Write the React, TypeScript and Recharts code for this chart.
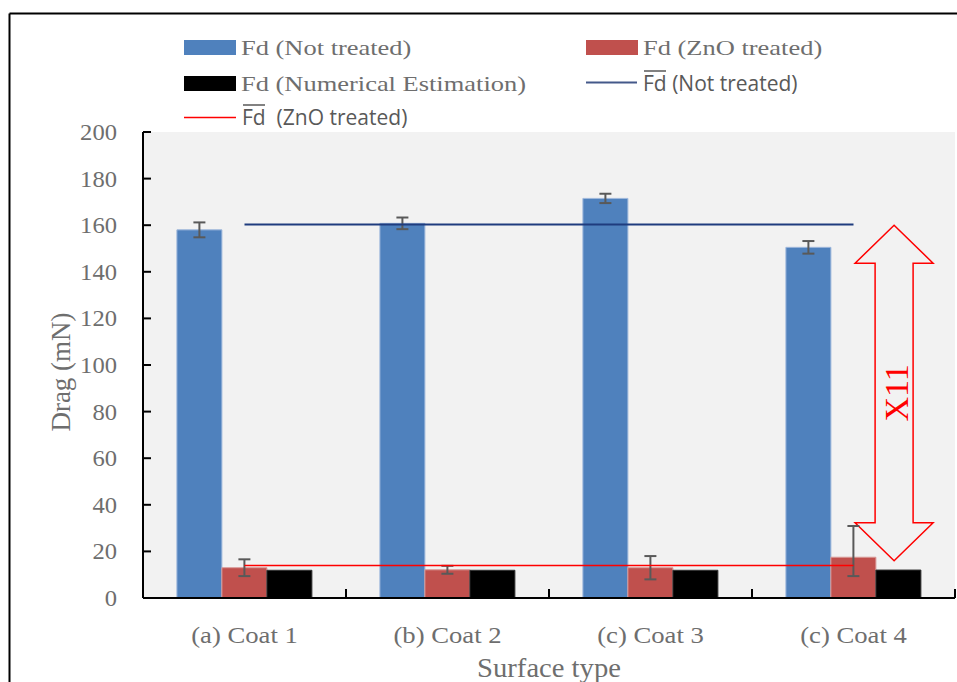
import React from 'react';
import {
  ComposedChart, Bar, Line, XAxis, YAxis, CartesianGrid, ErrorBar, ReferenceArea,
} from 'recharts';

const surfaces = ['(a) Coat 1', '(b) Coat 2', '(c) Coat 3', '(c) Coat 4'];
const fdNotTreated = [158, 160.8, 171.5, 150.5];
const fdNotTreatedErr = [3.2, 2.5, 2, 2.7];
const fdZnO = [13, 12.1, 13, 17.5];
const fdZnOErr = [[3.6, 3.6], [1.7, 1.7], [5, 5], [8.1, 13.4]];
const fdNumerical = [11.9, 11.9, 11.9, 12];
const meanNotTreated = 160.3;
const meanZnO = 14;
const yTicks = [0, 20, 40, 60, 80, 100, 120, 140, 160, 180, 200];
const arrowFrom = 16;
const arrowTo = 160;
const ratioLabel = 'X11';

const data = surfaces.map((s, i) => ({
  surface: s,
  notTreated: fdNotTreated[i],
  notTreatedErr: fdNotTreatedErr[i],
  zno: fdZnO[i],
  znoErr: fdZnOErr[i],
  numerical: fdNumerical[i],
  meanNot: meanNotTreated,
  meanZnO: meanZnO,
}));

const SERIF = '"Liberation Serif", "Times New Roman", serif';
const SANS = '"Open Sans", "Noto Sans", sans-serif';
const GREY = '#595959';
const LIGHT = '#6e6e6e'; // serif text is thin in the original, so a lighter grey
const NAVY = '#1f3c7e';

function YTick({ x, y, payload }: any) {
  return (
    <g>
      <line x1={x} x2={x + 8} y1={y} y2={y} stroke="#000" strokeWidth={2} />
      <text
        transform={`translate(${x - 26},${y}) scale(1.07,1)`}
        textAnchor="end"
        dy="0.35em"
        fontFamily={SERIF}
        fontSize={23}
        fill={LIGHT}
      >
        {payload.value}
      </text>
    </g>
  );
}

function XTick({ x, y, payload }: any) {
  // boundary tick at the right edge of each band, pointing up into the plot
  const half = payload.offset ?? 101.5;
  return (
    <g>
      <line x1={x + half} x2={x + half} y1={y} y2={y - 9} stroke="#000" strokeWidth={2} />
      <text
        transform={`translate(${x},${y + 45}) scale(1.16,1)`}
        textAnchor="middle"
        fontFamily={SERIF}
        fontSize={23}
        fill={LIGHT}
      >
        {payload.value}
      </text>
    </g>
  );
}

function ArrowShape(props: any) {
  const { x, y, width, height } = props;
  const cx = x + width * 0.925;
  const top = y;
  const bot = y + height;
  const hw = 39, sw = 19, hl = 38;
  const d = `M${cx},${top} L${cx + hw},${top + hl} L${cx + sw},${top + hl} L${cx + sw},${bot - hl} L${cx + hw},${bot - hl} L${cx},${bot} L${cx - hw},${bot - hl} L${cx - sw},${bot - hl} L${cx - sw},${top + hl} L${cx - hw},${top + hl} Z`;
  return (
    <g>
      <path d={d} fill="none" stroke="#ff0000" strokeWidth={1.5} />
      <text
        transform={`translate(${cx + 14},${(top + bot) / 2}) rotate(-90)`}
        textAnchor="middle"
        fontFamily={SERIF}
        fontSize={34}
        fill="#ff0000"
      >
        {ratioLabel}
      </text>
    </g>
  );
}

function SerifLabel({ x, y, text }: { x: number; y: number; text: string }) {
  return (
    <text transform={`translate(${x},${y}) scale(1.26,1)`} fontFamily={SERIF} fontSize={21} fill={LIGHT}>
      {text}
    </text>
  );
}

function MeanLabel({ x, y, text }: { x: number; y: number; text: string }) {
  return (
    <g>
      <line x1={x + 1} x2={x + 23} y1={y - 20} y2={y - 20} stroke={GREY} strokeWidth={1.5} />
      <text x={x} y={y} fontFamily={SANS} fontSize={21} fill={GREY} style={{ whiteSpace: 'pre' }}>
        {text}
      </text>
    </g>
  );
}

function Overlay() {
  return (
    <svg width={957} height={682} style={{ position: 'absolute', left: 0, top: 0, pointerEvents: 'none' }}>
      {/* frame */}
      <line x1={9.5} x2={957} y1={13.5} y2={13.5} stroke="#000" strokeWidth={2} />
      <line x1={9.5} x2={9.5} y1={13.5} y2={682} stroke="#000" strokeWidth={2} />

      {/* legend */}
      <rect x={184} y={40} width={52} height={15} fill="#4f81bd" />
      <SerifLabel x={241} y={55} text="Fd (Not treated)" />
      <rect x={586} y={40} width={52} height={15} fill="#c0504d" />
      <SerifLabel x={643} y={55} text="Fd (ZnO treated)" />
      <rect x={184} y={76} width={52} height={15} fill="#000" />
      <SerifLabel x={241} y={91} text="Fd (Numerical Estimation)" />
      <line x1={586} x2={637} y1={82.5} y2={82.5} stroke="#44598a" strokeWidth={2} />
      <MeanLabel x={643} y={91} text="Fd (Not treated)" />
      <line x1={184} x2={236} y1={117.5} y2={117.5} stroke="#ff0000" strokeWidth={1.5} />
      <MeanLabel x={242} y={125} text="Fd  (ZnO treated)" />

      {/* axis titles */}
      <text
        transform="translate(70,372) rotate(-90)"
        textAnchor="middle"
        fontFamily={SERIF}
        fontSize={27}
        fill={LIGHT}
      >
        Drag (mN)
      </text>
      <text
        transform="translate(549,677) scale(1.06,1)"
        textAnchor="middle"
        fontFamily={SERIF}
        fontSize={27}
        fill={LIGHT}
      >
        Surface type
      </text>
    </svg>
  );
}

export default function App() {
  return (
    <div style={{ position: 'absolute', left: 0, top: 0, width: 957, height: 682, overflow: 'hidden', background: '#fff' }}>
      <ComposedChart
        width={957}
        height={682}
        data={data}
        margin={{ top: 132, right: 2, bottom: 0, left: 0 }}
        barCategoryGap="16.7%"
        barGap={0}
      >
        <CartesianGrid fill="#f2f2f2" stroke="none" horizontal={false} vertical={false} />
        <XAxis
          dataKey="surface"
          height={84}
          tickSize={0}
          tickMargin={0}
          interval={0}
          tick={<XTick />}
          tickLine={false}
          axisLine={{ stroke: '#000', strokeWidth: 2 }}
        />
        <YAxis
          width={143}
          domain={[0, 200]}
          ticks={yTicks}
          interval={0}
          tickSize={0}
          tickMargin={0}
          tick={<YTick />}
          tickLine={false}
          axisLine={{ stroke: '#000', strokeWidth: 2 }}
        />
        <Bar dataKey="notTreated" fill="#4f81bd" stroke="#9fb8dc" strokeWidth={1} isAnimationActive={false}>
          <ErrorBar dataKey="notTreatedErr" width={6} stroke={GREY} strokeWidth={2} />
        </Bar>
        <Bar dataKey="zno" fill="#c0504d" stroke="#d99a98" strokeWidth={1} isAnimationActive={false}>
          <ErrorBar dataKey="znoErr" width={6} stroke={GREY} strokeWidth={2} />
        </Bar>
        <Bar dataKey="numerical" fill="#000" stroke="#333" strokeWidth={1} isAnimationActive={false} />
        <Line
          type="linear"
          dataKey="meanNot"
          stroke={NAVY}
          strokeWidth={2}
          dot={false}
          activeDot={false}
          isAnimationActive={false}
        />
        <Line
          type="linear"
          dataKey="meanZnO"
          stroke="#ff0000"
          strokeWidth={1.5}
          dot={false}
          activeDot={false}
          isAnimationActive={false}
        />
        <ReferenceArea y1={arrowFrom} y2={arrowTo} ifOverflow="visible" shape={<ArrowShape />} />
      </ComposedChart>
      <Overlay />
    </div>
  );
}
